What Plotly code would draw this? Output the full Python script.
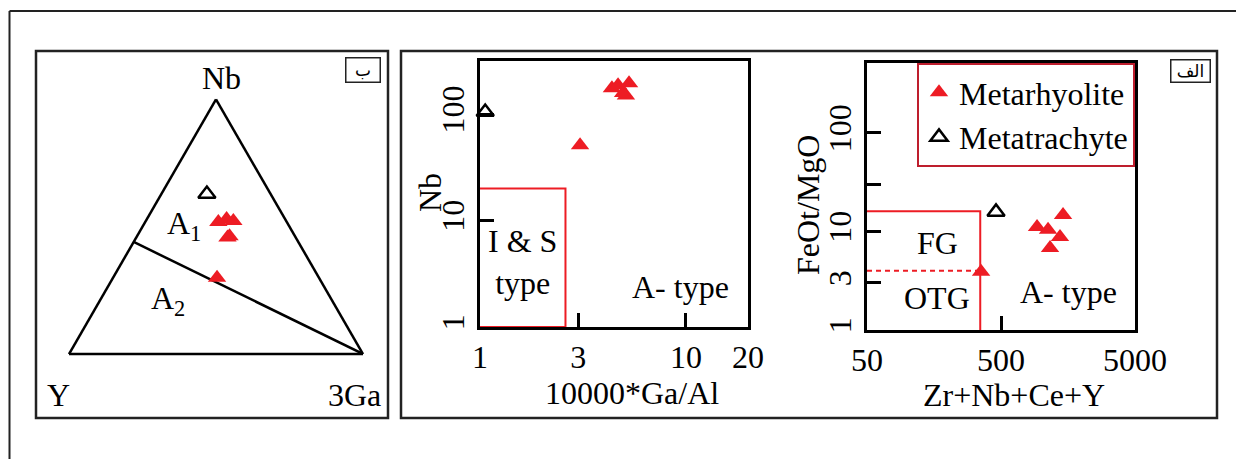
import math
import plotly.graph_objects as go

W, H = 1236, 459

# ---- Nb - Y - 3Ga ternary (A1 / A2 subdivision)
tern_rhy_nb = [0.518, 0.530, 0.522, 0.462, 0.458, 0.299]
tern_rhy_y = [0.233, 0.199, 0.180, 0.223, 0.232, 0.347]
tern_rhy_ga = [0.249, 0.271, 0.298, 0.315, 0.310, 0.354]
tern_tra_nb = [0.628]
tern_tra_y = [0.217]
tern_tra_ga = [0.155]
a1a2_nb = [0.44, 0.0]
a1a2_y = [0.56, 0.0]
a1a2_ga = [0.0, 1.0]

# ---- Nb vs 10000*Ga/Al
rhy_gaal = [4.37, 4.68, 5.29, 5.11, 4.95, 3.06]
rhy_nb = [175, 187, 195, 150, 158, 51]
tra_gaal = [1.06]
tra_nb = [105]
is_gaal = [1, 2.6, 2.6, 1]
is_nb = [20, 20, 1, 1]

# ---- FeOt/MgO vs Zr+Nb+Ce+Y
rhy_zr = [929, 1122, 1452, 1378, 1161, 355]
rhy_fm = [11.1, 10.4, 14.7, 8.8, 6.8, 3.9]
tra_zr = [459]
tra_fm = [15.8]
fg_zr = [50, 350, 350]
fg_fm = [16, 16, 1]
otg_zr = [50, 350]
otg_fm = [4, 4]

SERIF = "Liberation Serif, Times New Roman, serif"
RED = "#ed1c24"
DARKRED = "#be1e2d"
FS = 32


def px(x):
    return x / W


def py(y):
    return 1 - y / H


red_marker = dict(symbol="triangle-up", size=16, color=RED, line=dict(width=0))
open_marker = dict(symbol="triangle-up-open", size=15, color="black",
                   line=dict(width=2.5, color="black"))

fig = go.Figure()

# ternary traces
fig.add_trace(go.Scatterternary(a=a1a2_nb, b=a1a2_y, c=a1a2_ga, mode="lines",
                                line=dict(color="black", width=2.5),
                                showlegend=False, hoverinfo="skip"))
fig.add_trace(go.Scatterternary(a=tern_tra_nb, b=tern_tra_y, c=tern_tra_ga,
                                mode="markers", marker=open_marker,
                                showlegend=False))
fig.add_trace(go.Scatterternary(a=tern_rhy_nb, b=tern_rhy_y, c=tern_rhy_ga,
                                mode="markers", marker=red_marker,
                                showlegend=False))

# Nb vs Ga/Al
fig.add_trace(go.Scatter(x=is_gaal, y=is_nb, mode="lines",
                         line=dict(color=RED, width=2), xaxis="x", yaxis="y",
                         showlegend=False, hoverinfo="skip"))
fig.add_trace(go.Scatter(x=tra_gaal, y=tra_nb, mode="markers", marker=open_marker,
                         xaxis="x", yaxis="y", cliponaxis=False, showlegend=False))
fig.add_trace(go.Scatter(x=rhy_gaal, y=rhy_nb, mode="markers", marker=red_marker,
                         xaxis="x", yaxis="y", cliponaxis=False, showlegend=False))

# FeOt/MgO vs Zr+Nb+Ce+Y
fig.add_trace(go.Scatter(x=fg_zr, y=fg_fm, mode="lines",
                         line=dict(color=RED, width=2), xaxis="x2", yaxis="y2",
                         showlegend=False, hoverinfo="skip"))
fig.add_trace(go.Scatter(x=otg_zr, y=otg_fm, mode="lines",
                         line=dict(color=RED, width=2, dash="5px,4px"),
                         xaxis="x2", yaxis="y2", showlegend=False, hoverinfo="skip"))
fig.add_trace(go.Scatter(x=rhy_zr, y=rhy_fm, mode="markers", marker=red_marker,
                         name="Metarhyolite", xaxis="x2", yaxis="y2",
                         cliponaxis=False))
fig.add_trace(go.Scatter(x=tra_zr, y=tra_fm, mode="markers", marker=open_marker,
                         name="Metatrachyte", xaxis="x2", yaxis="y2",
                         cliponaxis=False))

axis_common = dict(type="log", showline=True, mirror=True, linecolor="black",
                   linewidth=2.5, ticks="inside", ticklen=14, tickwidth=2.5,
                   tickcolor="black", showgrid=False, zeroline=False,
                   automargin=False,
                   tickfont=dict(family=SERIF, size=FS, color="black"))

fig.update_layout(
    width=W, height=H,
    margin=dict(l=0, r=0, t=0, b=0, pad=0, autoexpand=False),
    paper_bgcolor="white", plot_bgcolor="rgba(0,0,0,0)",
    font=dict(family=SERIF, size=FS, color="black"),
    ternary=dict(
        domain=dict(x=[px(69), px(363)], y=[py(354), py(354 - 294 * math.sqrt(3) / 2)]),
        sum=1, bgcolor="rgba(0,0,0,0)",
        aaxis=dict(title=dict(text=""), showticklabels=False, ticks="", showgrid=False,
                   linecolor="black", linewidth=2.5),
        baxis=dict(title=dict(text=""), showticklabels=False, ticks="", showgrid=False,
                   linecolor="black", linewidth=2.5),
        caxis=dict(title=dict(text=""), showticklabels=False, ticks="", showgrid=False,
                   linecolor="black", linewidth=2.5),
    ),
    xaxis=dict(domain=[px(480), px(748)], range=[0, math.log10(20)],
               tickvals=[1, 3, 10, 20], ticktext=["1", "3", "10", "20"],
               anchor="y", **axis_common),
    yaxis=dict(domain=[py(327), py(61)], range=[0, 2.5],
               tickvals=[1, 10, 100], ticktext=["1", "10", "100"], tickangle=-90,
               anchor="x", **axis_common),
    xaxis2=dict(domain=[px(867), px(1135)], range=[math.log10(50), math.log10(5000)],
                tickvals=[50, 500, 5000], ticktext=["50", "500", "5000"],
                anchor="y2", **axis_common),
    yaxis2=dict(domain=[py(330), py(63)], range=[0, 2.71],
                tickvals=[1, 3, 10, 30, 100], ticktext=["1", "3", "10", " ", "100"],
                tickangle=-90, anchor="x2", **axis_common),
    legend=dict(x=px(917), y=py(63), xanchor="left", yanchor="top",
                bgcolor="white", bordercolor=DARKRED, borderwidth=2,
                font=dict(family=SERIF, size=FS, color="black"),
                itemclick=False, itemdoubleclick=False),
)

# blank strip right of the panels, below the outer top edge
fig.add_shape(type="rect", xref="paper", yref="paper",
              x0=px(1220), y0=0, x1=1, y1=py(13),
              fillcolor="white", line=dict(width=0), layer="above")
# outer frame: top and left edges, kept inside the page
fig.add_shape(type="line", xref="paper", yref="paper",
              x0=px(9.5), y0=py(11), x1=1, y1=py(11),
              line=dict(color="#222", width=2))
fig.add_shape(type="line", xref="paper", yref="paper",
              x0=px(9.5), y0=py(11), x1=px(9.5), y1=0,
              line=dict(color="#222", width=2))
# panel frames
fig.add_shape(type="rect", xref="paper", yref="paper",
              x0=px(36), y0=py(418), x1=px(388), y1=py(51),
              line=dict(color="#222", width=2.5))
fig.add_shape(type="rect", xref="paper", yref="paper",
              x0=px(401), y0=py(418), x1=px(1217), y1=py(51),
              line=dict(color="#222", width=2.5))


def label(text, x, y, size=FS, angle=0, family=SERIF, **kw):
    fig.add_annotation(text=text, x=px(x), y=py(y), xref="paper", yref="paper",
                       xanchor="center", yanchor="middle", showarrow=False,
                       textangle=angle, font=dict(family=family, size=size,
                                                   color="black"), **kw)


# ternary apex labels and fields
label("Nb", 221, 78)
label("Y", 58, 395)
label("3Ga", 354, 395)
label("A<sub>1</sub>", 184, 226)
label("A<sub>2</sub>", 168, 300)

# middle panel labels
label("I &amp; S<br>type", 522, 262)
label("A- type", 680, 287)
label("10000*Ga/Al", 632, 393)
label("Nb", 430, 192, angle=-90)

# right panel labels
label("FG", 937, 243)
label("OTG", 937, 298)
label("A- type", 1068, 292)
label("Zr+Nb+Ce+Y", 1014, 395)
label("FeOt/MgO", 808, 205, angle=-90)

# panel letters
label("ب", 362.5, 70, size=17, family="DejaVu Sans", width=31, height=21,
      bordercolor="#222", borderwidth=1.5, borderpad=1)
label("الف", 1190.5, 71, size=17, family="DejaVu Sans", width=36, height=19,
      bordercolor="#222", borderwidth=1.5, borderpad=1)

fig.write_html("out.html")
